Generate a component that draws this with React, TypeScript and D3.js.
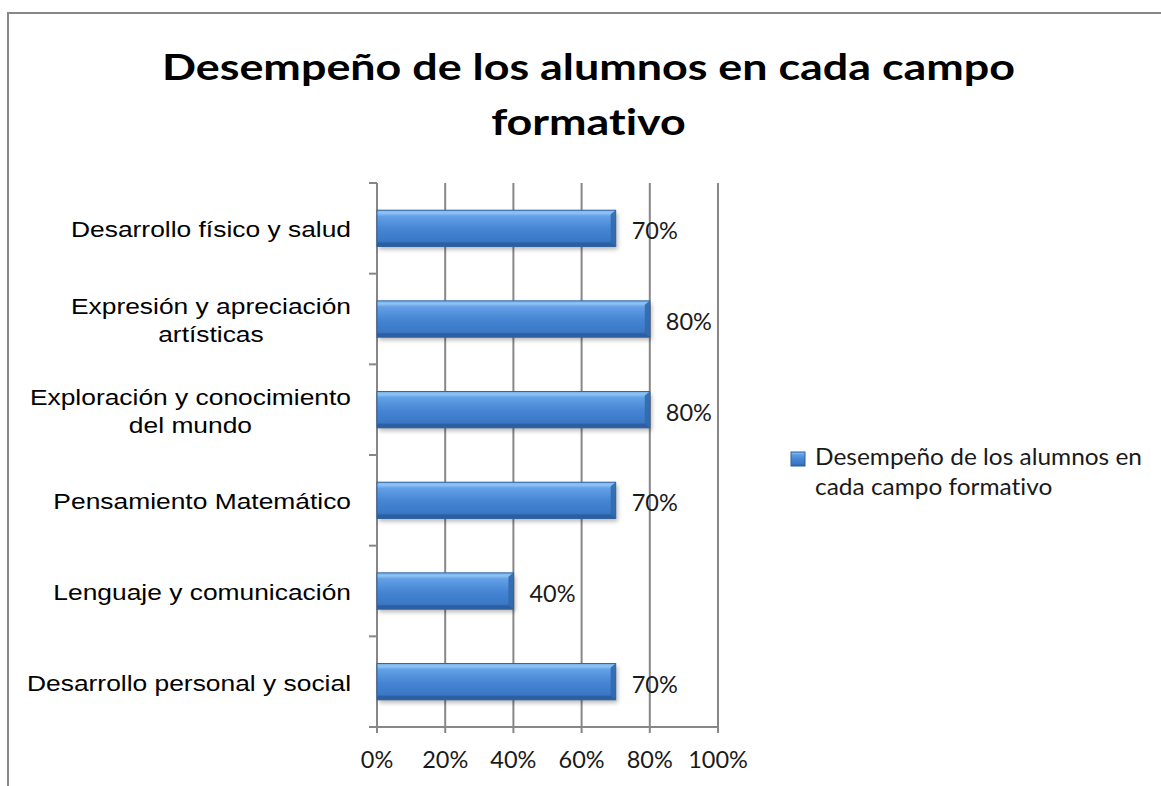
import React, { useEffect, useRef } from "react";
import * as d3 from "d3";

const categories = [
  "Desarrollo físico y salud",
  "Expresión y apreciación artísticas",
  "Exploración y conocimiento del mundo",
  "Pensamiento Matemático",
  "Lenguaje y comunicación",
  "Desarrollo personal y social",
];
const categoryLines = [
  ["Desarrollo físico y salud"],
  ["Expresión y apreciación", "artísticas"],
  ["Exploración y conocimiento", "del mundo"],
  ["Pensamiento Matemático"],
  ["Lenguaje y comunicación"],
  ["Desarrollo personal y social"],
];
const values = [0.7, 0.8, 0.8, 0.7, 0.4, 0.7];
const xTicks = [0, 0.2, 0.4, 0.6, 0.8, 1.0];
const titleLines = ["Desempeño de los alumnos en cada campo", "formativo"];
const legendLines = ["Desempeño de los alumnos en", "cada campo formativo"];

const W = 1161;
const H = 786;

export default function App() {
  const ref = useRef<SVGSVGElement | null>(null);

  useEffect(() => {
    const draw = () => {
      const svg = d3.select(ref.current);
      svg.selectAll("*").remove();

      const defs = svg.append("defs");
      const g1 = defs.append("linearGradient").attr("id", "barGrad").attr("x1", 0).attr("y1", 0).attr("x2", 0).attr("y2", 1);
      [
        [0, "#5f9de4"],
        [0.07, "#8dc0f2"],
        [0.17, "#62a0e6"],
        [0.5, "#4686d4"],
        [0.85, "#3a78c6"],
        [1, "#2d5f9f"],
      ].forEach(([o, c]) => g1.append("stop").attr("offset", o as number).attr("stop-color", c as string));
      const f = defs.append("filter").attr("id", "shadow").attr("x", "-10%").attr("y", "-30%").attr("width", "130%").attr("height", "180%");
      f.append("feDropShadow").attr("dx", 2).attr("dy", 3).attr("stdDeviation", 2).attr("flood-color", "#000").attr("flood-opacity", 0.28);

      // chart border
      svg.append("rect").attr("x", 8).attr("y", 13).attr("width", W + 20).attr("height", H + 20)
        .attr("fill", "white").attr("stroke", "#888888").attr("stroke-width", 2);

      const x = d3.scaleLinear().domain([0, 1]).range([377, 718]);
      const y = d3.scaleBand<string>().domain(categories).range([183, 727]).paddingInner(0).paddingOuter(0);
      const bw = y.bandwidth();
      const axisColor = "#878787";

      // gridlines
      svg.append("g").selectAll("line").data(xTicks.slice(1)).join("line")
        .attr("x1", (d) => x(d)).attr("x2", (d) => x(d)).attr("y1", 183).attr("y2", 733)
        .attr("stroke", axisColor).attr("stroke-width", 2);

      // y axis
      svg.append("line").attr("x1", x(0)).attr("x2", x(0)).attr("y1", 183).attr("y2", 733)
        .attr("stroke", axisColor).attr("stroke-width", 2);
      const boundaries = categories.map((c) => y(c) as number).concat([727]);
      svg.append("g").selectAll("line").data(boundaries).join("line")
        .attr("x1", 369).attr("x2", x(0)).attr("y1", (d) => d).attr("y2", (d) => d)
        .attr("stroke", axisColor).attr("stroke-width", 2);
      // x axis
      svg.append("line").attr("x1", 369).attr("x2", x(1)).attr("y1", 727).attr("y2", 727)
        .attr("stroke", axisColor).attr("stroke-width", 2);

      const numFont = "Lato, 'Open Sans', sans-serif";
      // x tick labels
      svg.append("g").selectAll("text").data(xTicks).join("text")
        .attr("x", (d) => x(d)).attr("y", 768)
        .attr("text-anchor", "middle")
        .attr("font-family", numFont).attr("font-size", 23.5)
        .attr("fill", "#1a1a1a")
        .text((d) => d3.format(".0%")(d));

      // bars
      const bev = 4;
      const bars = svg.append("g");
      categories.forEach((c, i) => {
        const x0 = x(0);
        const x1 = x(values[i]);
        const yt = (y(c) as number) + bw * 0.3;
        const h = bw * 0.4;
        const gb = bars.append("g");
        gb.append("rect").attr("x", x0).attr("y", yt).attr("width", x1 - x0).attr("height", h)
          .attr("fill", "url(#barGrad)").attr("filter", "url(#shadow)");
        gb.append("polygon").attr("points", `${x0},${yt} ${x1},${yt} ${x1 - bev},${yt + bev} ${x0},${yt + bev}`)
          .attr("fill", "#8fc2f3").attr("opacity", 0.6);
        gb.append("polygon").attr("points", `${x0},${yt + h - bev} ${x1 - bev},${yt + h - bev} ${x1},${yt + h} ${x0},${yt + h}`)
          .attr("fill", "#2b5d9e").attr("opacity", 0.8);
        gb.append("polygon").attr("points", `${x1 - bev - 1},${yt + bev} ${x1},${yt} ${x1},${yt + h} ${x1 - bev - 1},${yt + h - bev}`)
          .attr("fill", "#3269ae").attr("opacity", 0.9);
        gb.append("rect").attr("x", x0).attr("y", yt).attr("width", x1 - x0).attr("height", h)
          .attr("fill", "none").attr("stroke", "#3163a2").attr("stroke-width", 1);
        svg.append("text").attr("x", x1 + 16).attr("y", (y(c) as number) + bw / 2 + 11)
          .attr("font-family", numFont).attr("font-size", 23.5)
          .attr("fill", "#1a1a1a")
          .text(d3.format(".0%")(values[i]));
      });

      // category labels
      const labelFont = "'Liberation Sans', Arial, sans-serif";
      const lfs = 22.5;
      const probe = svg.append("text").attr("font-family", labelFont).attr("font-size", lfs).text(categoryLines[0][0]);
      const labelScale = 280 / (probe.node() as SVGTextElement).getComputedTextLength();
      probe.remove();
      categories.forEach((c, i) => {
        const lines = categoryLines[i];
        const cy = (y(c) as number) + bw / 2;
        const nodes = lines.map((ln) =>
          svg.append("text").attr("font-family", labelFont).attr("font-size", lfs).attr("fill", "#000").text(ln)
        );
        const widths = nodes.map((n) => (n.node() as SVGTextElement).getComputedTextLength() * labelScale);
        const maxW = Math.max(...widths);
        const cx = 351 - maxW / 2;
        const n = lines.length;
        nodes.forEach((nd, k) => {
          nd.attr("x", cx).attr("text-anchor", "middle")
            .attr("y", cy + 9 + (k - (n - 1) / 2) * 28)
            .attr("textLength", widths[k]).attr("lengthAdjust", "spacingAndGlyphs");
        });
      });

      // title
      const titleFont = "Lato, 'Open Sans', sans-serif";
      const tNodes = titleLines.map((t, k) =>
        svg.append("text").attr("font-family", titleFont).attr("font-weight", 700).attr("font-size", 37)
          .style("font-variant-ligatures", "none")
          .attr("fill", "#000").attr("text-anchor", "middle").attr("x", 588.5).attr("y", 80 + k * 55).text(t)
      );
      const tScale = 853 / (tNodes[0].node() as SVGTextElement).getComputedTextLength();
      tNodes.forEach((nd) => {
        const w = (nd.node() as SVGTextElement).getComputedTextLength() * tScale;
        nd.attr("textLength", w).attr("lengthAdjust", "spacingAndGlyphs");
      });

      // legend
      svg.append("rect").attr("x", 791).attr("y", 452).attr("width", 14).attr("height", 14)
        .attr("fill", "url(#barGrad)").attr("stroke", "#2e5f9e").attr("stroke-width", 1);
      const lNodes = legendLines.map((t, k) =>
        svg.append("text").attr("font-family", titleFont).attr("font-size", 23)
          .style("font-variant-ligatures", "none")
          .attr("fill", "#1a1a1a").attr("x", 815).attr("y", 465 + k * 30).text(t)
      );
      const lScale = 327 / (lNodes[0].node() as SVGTextElement).getComputedTextLength();
      lNodes.forEach((nd) => {
        const w = (nd.node() as SVGTextElement).getComputedTextLength() * lScale;
        nd.attr("textLength", w).attr("lengthAdjust", "spacingAndGlyphs");
      });
    };
    draw();
    if ((document as any).fonts && (document as any).fonts.ready) {
      (document as any).fonts.ready.then(draw);
    }
  }, []);

  return (
    <svg
      ref={ref}
      width={W}
      height={H}
      style={{ position: "fixed", left: 0, top: 0, background: "white" }}
    />
  );
}
